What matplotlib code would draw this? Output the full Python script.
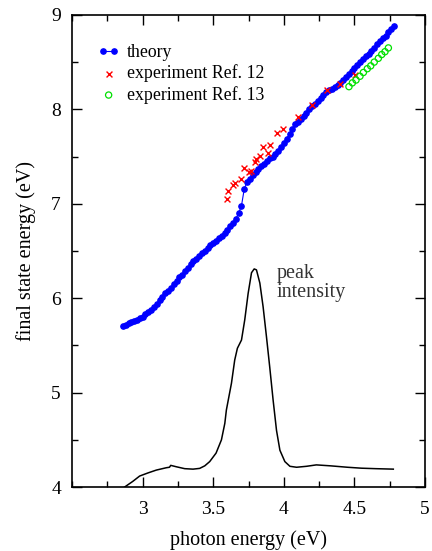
import numpy as np
import matplotlib
matplotlib.use("Agg")
import matplotlib.pyplot as plt
from matplotlib.ticker import MultipleLocator

plt.rcParams['font.family'] = ['Liberation Serif', 'DejaVu Serif']

# theory: photon energy (eV) and final state energy (eV)
theory_x = [round(2.86 + 0.02 * i, 2) for i in range(97)]
theory_y = [5.71, 5.72, 5.74, 5.75, 5.76, 5.77, 5.79, 5.80, 5.83, 5.85,
            5.88, 5.91, 5.94, 5.98, 6.01, 6.05, 6.08, 6.11, 6.15, 6.18,
            6.22, 6.25, 6.29, 6.32, 6.36, 6.39, 6.42, 6.45, 6.48, 6.50,
            6.53, 6.56, 6.58, 6.61, 6.64, 6.66, 6.69, 6.72, 6.76, 6.80,
            6.84, 6.90, 6.98, 7.16, 7.23, 7.26, 7.30, 7.34, 7.37, 7.40,
            7.42, 7.45, 7.48, 7.50, 7.53, 7.56, 7.60, 7.64, 7.69, 7.74,
            7.79, 7.84, 7.87, 7.90, 7.93, 7.96, 8.00, 8.03, 8.06, 8.09,
            8.12, 8.15, 8.18, 8.20, 8.22, 8.24, 8.26, 8.28, 8.31, 8.34,
            8.37, 8.41, 8.44, 8.47, 8.50, 8.53, 8.56, 8.59, 8.62, 8.65,
            8.69, 8.72, 8.75, 8.78, 8.82, 8.85, 8.88]

# experiment Ref. 12
exp12_x = [3.598, 3.605, 3.640, 3.652, 3.700, 3.716, 3.754, 3.770, 3.794, 3.806,
           3.830, 3.853, 3.889, 3.901, 3.948, 3.995, 4.101, 4.196, 4.303, 4.397, 4.504]
exp12_y = [7.05, 7.13, 7.20, 7.22, 7.26, 7.38, 7.34, 7.35, 7.44, 7.47,
           7.51, 7.60, 7.54, 7.62, 7.75, 7.79, 7.92, 8.05, 8.20, 8.27, 8.36]

# experiment Ref. 13
exp13_x = [4.461, 4.485, 4.511, 4.539, 4.563, 4.591, 4.615, 4.640, 4.669, 4.693, 4.716, 4.740]
exp13_y = [8.24, 8.28, 8.31, 8.35, 8.39, 8.43, 8.46, 8.50, 8.54, 8.58, 8.61, 8.65]

# peak intensity curve (arbitrary units, drawn on same axes)
peak_x = [2.872, 2.93, 2.979, 3.038, 3.097, 3.168, 3.19, 3.199, 3.239, 3.298,
          3.357, 3.404, 3.44, 3.475, 3.52, 3.558, 3.582, 3.593, 3.629, 3.652,
          3.671, 3.70, 3.723, 3.747, 3.771, 3.79, 3.806, 3.83, 3.853, 3.877,
          3.90, 3.924, 3.948, 3.972, 4.007, 4.043, 4.09, 4.16, 4.23, 4.33,
          4.45, 4.55, 4.65, 4.775]
peak_y = [4.00, 4.06, 4.117, 4.15, 4.18, 4.205, 4.21, 4.23, 4.215, 4.195,
          4.19, 4.198, 4.225, 4.27, 4.36, 4.50, 4.675, 4.816, 5.10, 5.345,
          5.47, 5.557, 5.77, 6.05, 6.27, 6.31, 6.30, 6.16, 5.91, 5.59,
          5.27, 4.92, 4.60, 4.39, 4.27, 4.22, 4.21, 4.22, 4.235, 4.225,
          4.21, 4.20, 4.195, 4.19]

fig = plt.figure(figsize=(4.32, 5.51), dpi=100)
ax = fig.add_axes([0.1667, 0.116, 0.8173, 0.857])

ax.plot(theory_x, theory_y, '-o', color='#0000ff', lw=0.8, ms=3.8,
        label='theory', zorder=3)
ax.scatter(exp12_x, exp12_y, marker='x', color='#ff0000', s=18, lw=1.0,
           label='experiment Ref. 12', zorder=4)
ax.scatter(exp13_x, exp13_y, marker='o', facecolors='none', edgecolors='#00e000',
           s=20, lw=0.9, label='experiment Ref. 13', zorder=4)
ax.plot(peak_x, peak_y, '-', color='black', lw=1.1, zorder=2)

ax.text(3.95, 6.16, 'peak\nintensity', fontsize=14.5, color='#333333',
        va='center', ha='left', linespacing=1.0)

ax.set_xlim(2.5, 5.0)
ax.set_ylim(4.0, 9.0)
ax.xaxis.set_major_locator(MultipleLocator(0.5))
ax.xaxis.set_minor_locator(MultipleLocator(0.25))
ax.yaxis.set_major_locator(MultipleLocator(1))
ax.yaxis.set_minor_locator(MultipleLocator(0.5))
ax.set_xticks([3, 3.5, 4, 4.5, 5])
ax.set_xticklabels(['3', '3.5', '4', '4.5', '5'])
ax.set_yticks([4, 5, 6, 7, 8, 9])
ax.set_yticklabels(['4', '5', '6', '7', '8', '9'])
ax.tick_params(which='both', direction='in', top=True, right=True,
               labelsize=14, width=1.0)
ax.tick_params(axis='x', which='major', length=7, pad=10)
ax.tick_params(axis='y', which='major', length=7, pad=8)
ax.tick_params(which='minor', length=4)
for s in ax.spines.values():
    s.set_linewidth(1.2)

ax.set_xlabel('photon energy (eV)', fontsize=14.5, labelpad=9)
ax.set_ylabel('final state energy (eV)', fontsize=14.5, labelpad=11)

ax.legend(loc='upper left', bbox_to_anchor=(0.037, 0.965), frameon=False,
          fontsize=12.8, numpoints=2, scatterpoints=1, handlelength=1.25,
          handletextpad=0.4, labelspacing=0.2, borderaxespad=0.3)

fig.savefig('out.png', dpi=100)
